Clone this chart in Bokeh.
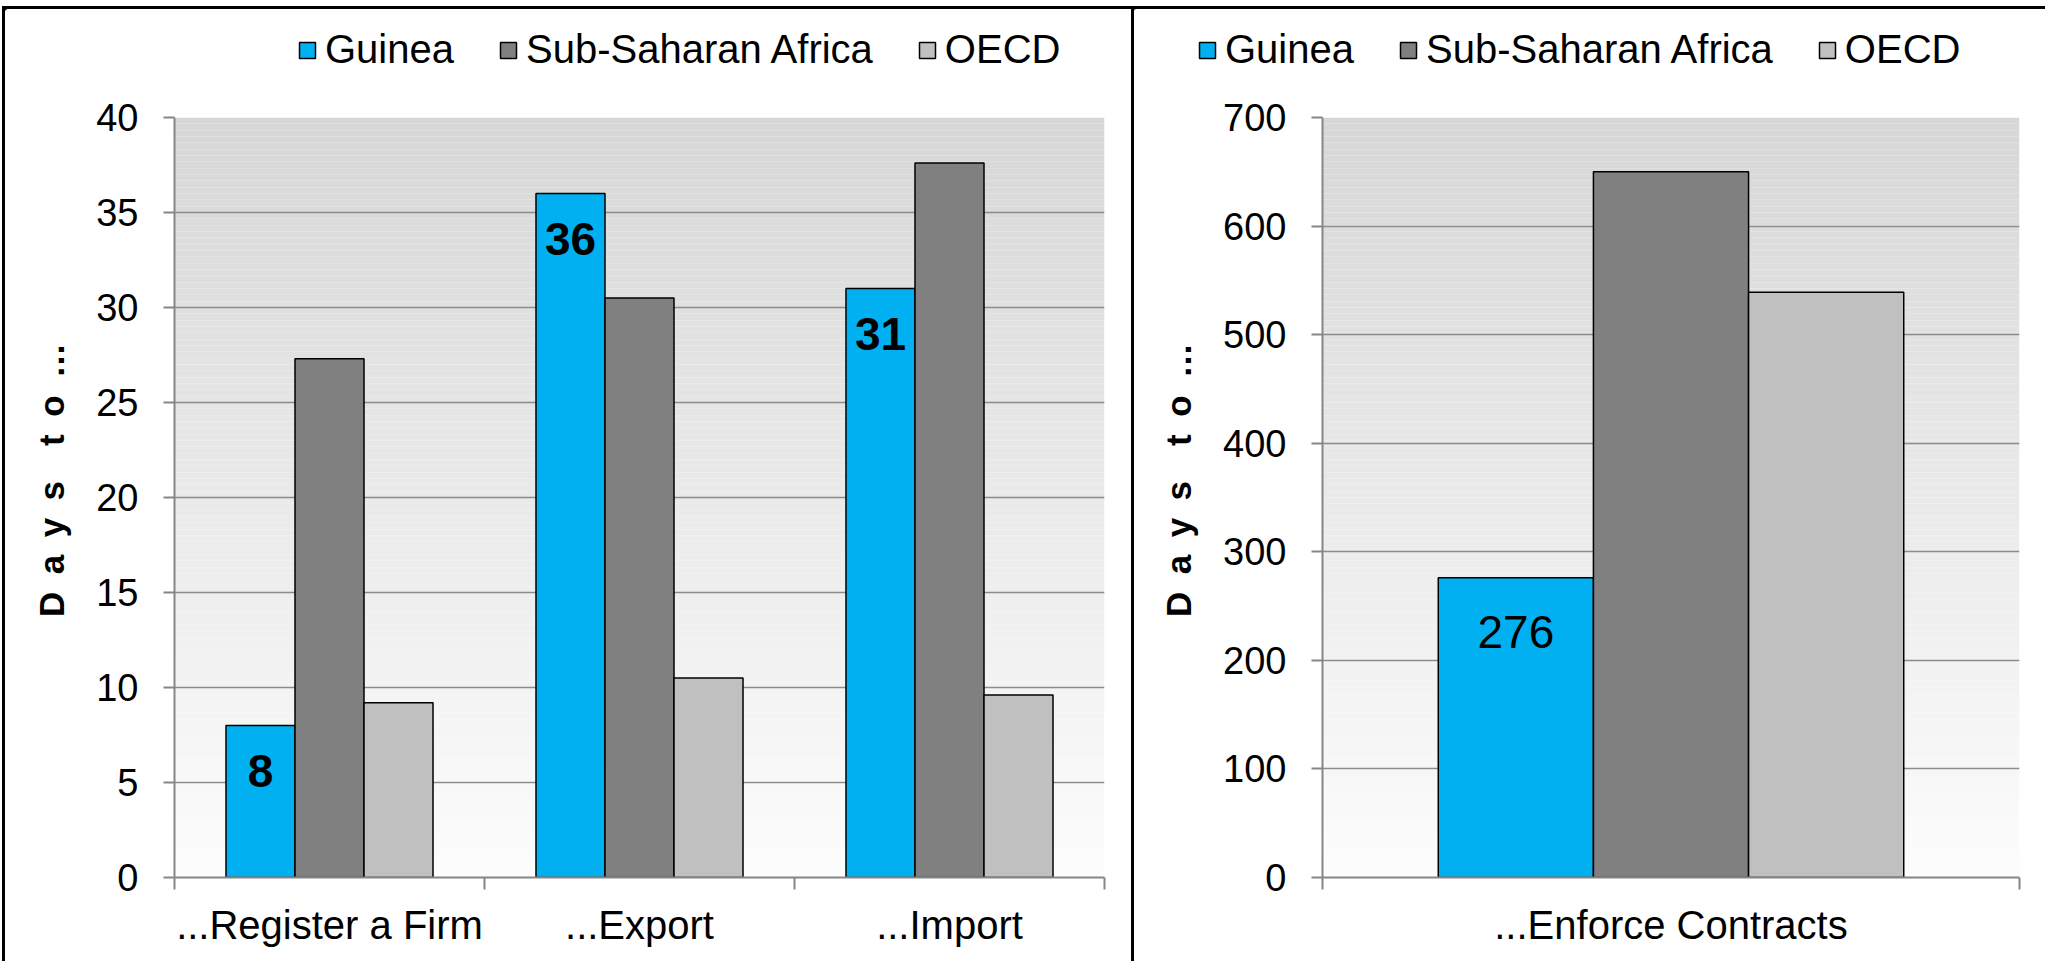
import numpy as np
from bokeh.plotting import figure
from bokeh.models import Range1d, FixedTicker, Legend, LegendItem, ColumnDataSource, Div, Spacer
from bokeh.layouts import row, column
from bokeh.embed import file_html
from bokeh.resources import INLINE
from bokeh.core.properties import value

# ---------------- data ----------------
series = ["Guinea", "Sub-Saharan Africa", "OECD"]
series_colors = ["#00B0F0", "#808080", "#C0C0C0"]

left_categories = ["...Register a Firm", "...Export", "...Import"]
left_guinea = [8, 36, 31]
left_ssa = [27.3, 30.5, 37.6]
left_oecd = [9.2, 10.5, 9.6]
left_ticks = [0, 5, 10, 15, 20, 25, 30, 35, 40]

right_categories = ["...Enforce Contracts"]
right_guinea = [276]
right_ssa = [650]
right_oecd = [539]
right_ticks = [0, 100, 200, 300, 400, 500, 600, 700]

y_title = "\u2003D\u2002a\u2002y\u2002s\u2003t\u2002o\u2002\u2026"

FONT = "Liberation Sans"
AXIS_GRAY = "#868686"
GRID_GRAY = "#8C8C8C"
LEG_H = 80
MAIN_H = 872
BAR_W = 0.2226
OFFSETS = [-BAR_W, 0.0, BAR_W]


def add_bars(p, centers, series_values):
    rs = []
    for vals, off, col in zip(series_values, OFFSETS, series_colors):
        src = ColumnDataSource(dict(x=centers + off, top=vals))
        rs.append(p.vbar(x="x", top="top", width=BAR_W, bottom=0, source=src,
                         fill_color=col, line_color="black", line_width=1.5))
    return rs


def make_legend_fig(width, categories, series_values, loc):
    n = len(categories)
    centers = np.arange(n) + 0.5
    # legend strip: same bars, but the visible window lies far away so they stay hidden
    lf = figure(width=width, height=LEG_H, output_backend="svg", toolbar_location=None,
                x_axis_location=None, y_axis_location=None,
                x_range=Range1d(n + 100, n + 101), y_range=Range1d(-2, -1),
                min_border=0, min_border_left=0, min_border_right=0,
                min_border_top=0, min_border_bottom=0)
    lf.outline_line_color = None
    lf.xgrid.visible = False
    lf.ygrid.visible = False
    lf.background_fill_color = "white"
    lf.border_fill_color = "white"
    rs = add_bars(lf, centers, series_values)
    legend = Legend(items=[LegendItem(label=s, renderers=[r]) for s, r in zip(series, rs)],
                    orientation="horizontal", location=loc,
                    glyph_width=20, glyph_height=20, label_standoff=8, spacing=44,
                    padding=0, margin=0, border_line_color=None,
                    background_fill_alpha=0, label_text_font=FONT,
                    label_text_font_size="40px", label_text_color="black")
    lf.add_layout(legend)
    return lf


def make_panel(categories, series_values, ticks, width, min_left, min_right,
               label_bold, label_offset):
    n = len(categories)
    centers = np.arange(n) + 0.5

    p = figure(width=width, height=MAIN_H, output_backend="svg", toolbar_location=None,
               x_range=Range1d(0, n), y_range=Range1d(ticks[0], ticks[-1]),
               min_border_left=min_left, min_border_right=min_right,
               min_border_top=28, min_border_bottom=84)
    p.outline_line_color = None
    p.background_fill_color = "white"
    p.border_fill_color = "white"

    # gradient background of the plot area
    nstrip = 120
    edges = np.linspace(ticks[0], ticks[-1], nstrip + 1)
    t = np.linspace(0, 1, nstrip)
    top_c = np.array([215, 215, 215])
    bot_c = np.array([253, 253, 253])
    cols = ["#%02x%02x%02x" % tuple((bot_c + (top_c - bot_c) * tt).astype(int)) for tt in t]
    p.quad(left=0, right=n, bottom=edges[:-1], top=edges[1:], fill_color=cols,
           line_color=None, level="image")

    add_bars(p, centers, series_values)

    # data labels for Guinea
    g = series_values[0]
    lab_src = ColumnDataSource(dict(x=centers + OFFSETS[0], y=g,
                                    t=[str(int(round(v))) for v in g]))
    p.text(x="x", y="y", text="t", source=lab_src, text_font=value(FONT),
           text_font_size="46px", text_font_style="bold" if label_bold else "normal",
           text_align="center", text_baseline="middle", y_offset=label_offset,
           text_color="black")

    # x axis
    xa = p.xaxis[0]
    xa.ticker = FixedTicker(ticks=list(centers), minor_ticks=list(range(n + 1)))
    xa.major_label_overrides = {float(c): cat for c, cat in zip(centers, categories)}
    xa.major_tick_line_color = None
    xa.major_tick_out = 0
    xa.major_tick_in = 0
    xa.minor_tick_out = 12
    xa.minor_tick_in = 0
    xa.minor_tick_line_color = AXIS_GRAY
    xa.minor_tick_line_width = 2
    xa.axis_line_color = AXIS_GRAY
    xa.axis_line_width = 2
    xa.major_label_text_font = FONT
    xa.major_label_text_font_size = "40px"
    xa.major_label_text_color = "black"
    xa.major_label_standoff = 13

    # y axis
    ya = p.yaxis[0]
    ya.ticker = FixedTicker(ticks=ticks, minor_ticks=[])
    ya.major_tick_out = 11
    ya.major_tick_in = 0
    ya.major_tick_line_color = AXIS_GRAY
    ya.major_tick_line_width = 2
    ya.axis_line_color = AXIS_GRAY
    ya.axis_line_width = 2
    ya.major_label_text_font = FONT
    ya.major_label_text_font_size = "38px"
    ya.major_label_text_color = "black"
    ya.major_label_standoff = 25
    ya.axis_label = y_title
    ya.axis_label_text_font = FONT
    ya.axis_label_text_font_size = "35px"
    ya.axis_label_text_font_style = "bold"
    ya.axis_label_text_color = "black"
    ya.axis_label_standoff = 22

    p.xgrid.visible = False
    p.ygrid.ticker = FixedTicker(ticks=ticks)
    p.ygrid.grid_line_color = GRID_GRAY
    p.ygrid.grid_line_width = 1.5
    return p


left_vals = [left_guinea, left_ssa, left_oecd]
right_vals = [right_guinea, right_ssa, right_oecd]

leg1 = make_legend_fig(1126, left_categories, left_vals, (292, 17))
leg2 = make_legend_fig(911, right_categories, right_vals, (63, 17))
p1 = make_panel(left_categories, left_vals, left_ticks,
                width=1126, min_left=169, min_right=27, label_bold=True, label_offset=45)
p2 = make_panel(right_categories, right_vals, right_ticks,
                width=911, min_left=188, min_right=26, label_bold=False, label_offset=54)

black = {"background-color": "black"}
top_line = row(Spacer(width=2, height=3),
               Div(width=2043, height=3, styles=black, margin=0))
leg_row = row(Spacer(width=2, height=LEG_H),
              Div(width=3, height=LEG_H, styles=black, margin=0), leg1,
              Div(width=3, height=LEG_H, styles=black, margin=0), leg2)
main_row = row(Spacer(width=2, height=MAIN_H),
               Div(width=3, height=MAIN_H, styles=black, margin=0), p1,
               Div(width=3, height=MAIN_H, styles=black, margin=0), p2)
layout = column(Spacer(width=2045, height=6), top_line, leg_row, main_row)

open("out.html", "w").write(file_html(layout, INLINE))
